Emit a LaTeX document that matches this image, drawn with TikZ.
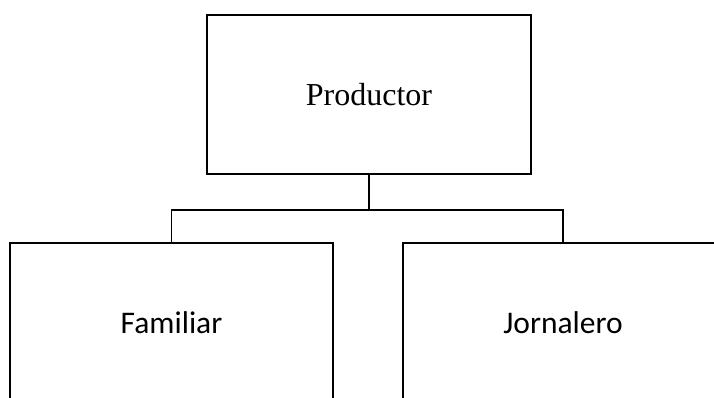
\documentclass[tikz,border=0pt]{standalone}
\usepackage{fontspec}
\setmainfont{Liberation Serif}
\newfontfamily\calib{Carlito}
\begin{document}
\begin{tikzpicture}[x=1pt,y=-1pt,
  box/.style={draw=black,line width=2.4pt,rectangle,minimum height=159pt,inner sep=0pt},
  conn/.style={draw=black,line width=1.8pt}]
\useasboundingbox (0,0) rectangle (714,398);
\node[box,minimum width=324pt,font=\fontsize{32}{36}\selectfont] (top) at (369,94.5) {Productor};
\node[box,minimum width=323pt,font=\calib\fontsize{31.5}{36}\selectfont] (left) at (171.5,322.5) {Familiar};
\node[box,minimum width=320pt,font=\calib\fontsize{31.5}{36}\selectfont] (right) at (563,322.5) {Jornalero};
\coordinate (bus) at (369,210);
\draw[conn] (top.south) -- (bus);
\draw[conn] (left.north) |- (bus) -| (right.north);
\end{tikzpicture}
\end{document}
